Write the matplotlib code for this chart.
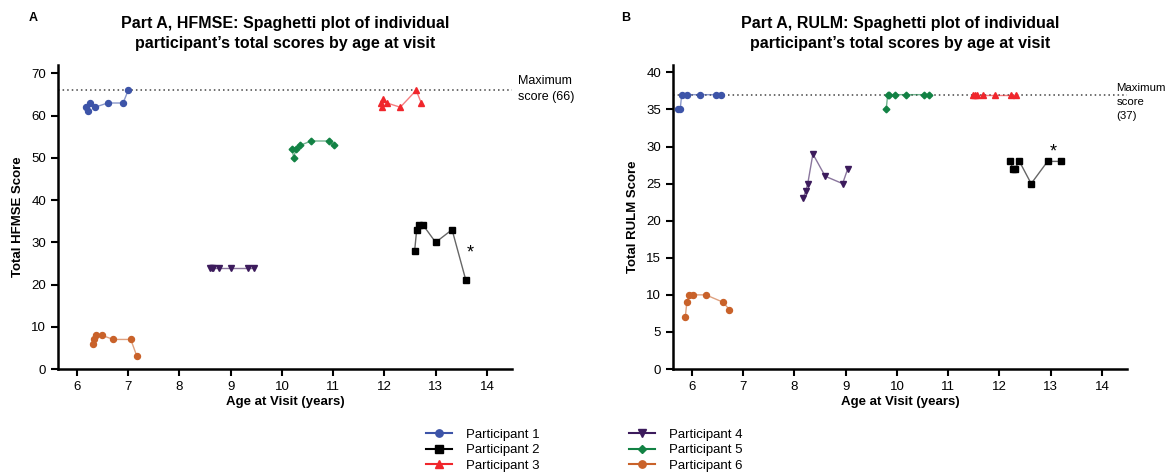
import matplotlib
matplotlib.use("Agg")
import matplotlib.pyplot as plt
from matplotlib.lines import Line2D

plt.rcParams['font.family'] = ['Liberation Sans', 'DejaVu Sans']

participants = ["Participant 1", "Participant 2", "Participant 3",
                "Participant 4", "Participant 5", "Participant 6"]
colors = ["#3d54a8", "#000000", "#f0262c", "#3c1b5c", "#128244", "#c9622a"]
markers = ["o", "s", "^", "v", "D", "o"]
msizes = [4.3, 4.6, 5.0, 4.6, 3.4, 4.3]

# Panel A: HFMSE
hfmse_age = [
    [6.18, 6.21, 6.25, 6.35, 6.60, 6.90, 7.00],
    [12.59, 12.63, 12.67, 12.76, 13.00, 13.32, 13.59],
    [11.93, 11.95, 11.98, 12.05, 12.31, 12.62, 12.72],
    [8.59, 8.63, 8.66, 8.77, 9.01, 9.34, 9.45],
    [10.20, 10.23, 10.27, 10.36, 10.57, 10.91, 11.01],
    [6.31, 6.34, 6.38, 6.48, 6.71, 7.05, 7.17],
]
hfmse_score = [
    [62, 61, 63, 62, 63, 63, 66],
    [28, 33, 34, 34, 30, 33, 21],
    [63, 62, 64, 63, 62, 66, 63],
    [24, 24, 24, 24, 24, 24, 24],
    [52, 50, 52, 53, 54, 54, 53],
    [6, 7, 8, 8, 7, 7, 3],
]

# Panel B: RULM
rulm_age = [
    [5.73, 5.77, 5.80, 5.90, 6.16, 6.46, 6.56],
    [12.21, 12.26, 12.30, 12.39, 12.62, 12.94, 13.21],
    [11.49, 11.52, 11.56, 11.68, 11.92, 12.22, 12.32],
    [8.17, 8.22, 8.26, 8.36, 8.60, 8.94, 9.04],
    [9.79, 9.82, 9.85, 9.96, 10.17, 10.52, 10.62],
    [5.87, 5.90, 5.94, 6.03, 6.27, 6.61, 6.73],
]
rulm_score = [
    [35, 35, 37, 37, 37, 37, 37],
    [28, 27, 27, 28, 25, 28, 28],
    [37, 37, 37, 37, 37, 37, 37],
    [23, 24, 25, 29, 26, 25, 27],
    [35, 37, 37, 37, 37, 37, 37],
    [7, 9, 10, 10, 10, 9, 8],
]

xticks = [6, 7, 8, 9, 10, 11, 12, 13, 14]

fig = plt.figure(figsize=(11.68, 4.72), dpi=100)
axA = fig.add_axes([58/1168, 103/472, 454/1168, 304/472])
axB = fig.add_axes([673/1168, 103/472, 454/1168, 304/472])


def style(ax, ylim, yticks, ylabel, title):
    ax.set_xlim(5.63, 14.49)
    ax.set_ylim(*ylim)
    ax.set_xticks(xticks)
    ax.set_yticks(yticks)
    for s in ["top", "right"]:
        ax.spines[s].set_visible(False)
    for s in ["left", "bottom"]:
        ax.spines[s].set_linewidth(1.8)
    ax.tick_params(axis='both', width=1.5, length=5, labelsize=9.5, direction='out')
    ax.set_xlabel("Age at Visit (years)", fontsize=9.5, fontweight='bold', labelpad=2)
    ax.set_ylabel(ylabel, fontsize=9.5, fontweight='bold', labelpad=5)
    ax.set_title(title, fontsize=11.5, fontweight='bold', pad=12, linespacing=1.45)


def draw(ax, ages, scores):
    for i in range(len(participants)):
        ax.plot(ages[i], scores[i], color=colors[i], lw=1.0, alpha=0.6, zorder=2)
        ax.plot(ages[i], scores[i], linestyle='none', marker=markers[i],
                markersize=msizes[i], color=colors[i], zorder=3)


draw(axA, hfmse_age, hfmse_score)
axA.axhline(66, color='#444444', linestyle=(0, (1, 2)), lw=1.1, zorder=1)
style(axA, (0, 72), [0, 10, 20, 30, 40, 50, 60, 70], "Total HFMSE Score",
      "Part A, HFMSE: Spaghetti plot of individual\nparticipant\u2019s total scores by age at visit")
axA.text(13.68, 27.5, "*", fontsize=13, ha='center', va='center')
axA.text(1.013, 66.3, "Maximum\nscore (66)", transform=axA.get_yaxis_transform(),
         fontsize=9, ha='left', va='center', linespacing=1.35)

draw(axB, rulm_age, rulm_score)
axB.axhline(37, color='#444444', linestyle=(0, (1, 2)), lw=1.1, zorder=1)
style(axB, (0, 41), [0, 5, 10, 15, 20, 25, 30, 35, 40], "Total RULM Score",
      "Part A, RULM: Spaghetti plot of individual\nparticipant\u2019s total scores by age at visit")
axB.text(13.06, 29.3, "*", fontsize=13, ha='center', va='center')
fig.text(1166/1168, 1 - 102/472, "Maximum\nscore\n(37)", fontsize=8.2,
         ha='right', va='center', multialignment='left', linespacing=1.55)

fig.text(33/1168, 1 - 18/472, "A", fontsize=9, fontweight='bold', ha='center', va='center')
fig.text(626/1168, 1 - 18/472, "B", fontsize=9, fontweight='bold', ha='center', va='center')

handles = [Line2D([0], [0], color=colors[i], marker=markers[i], markersize=msizes[i] + 1,
                  lw=1.5) for i in range(len(participants))]
fig.legend(handles, participants, loc='upper center', bbox_to_anchor=(0.5, 1 - 422/472),
           ncol=2, frameon=False, fontsize=9.5, handlelength=2.0, columnspacing=6.8,
           labelspacing=0.25, handletextpad=1.0, borderpad=0)

fig.savefig("out.png", dpi=100)
